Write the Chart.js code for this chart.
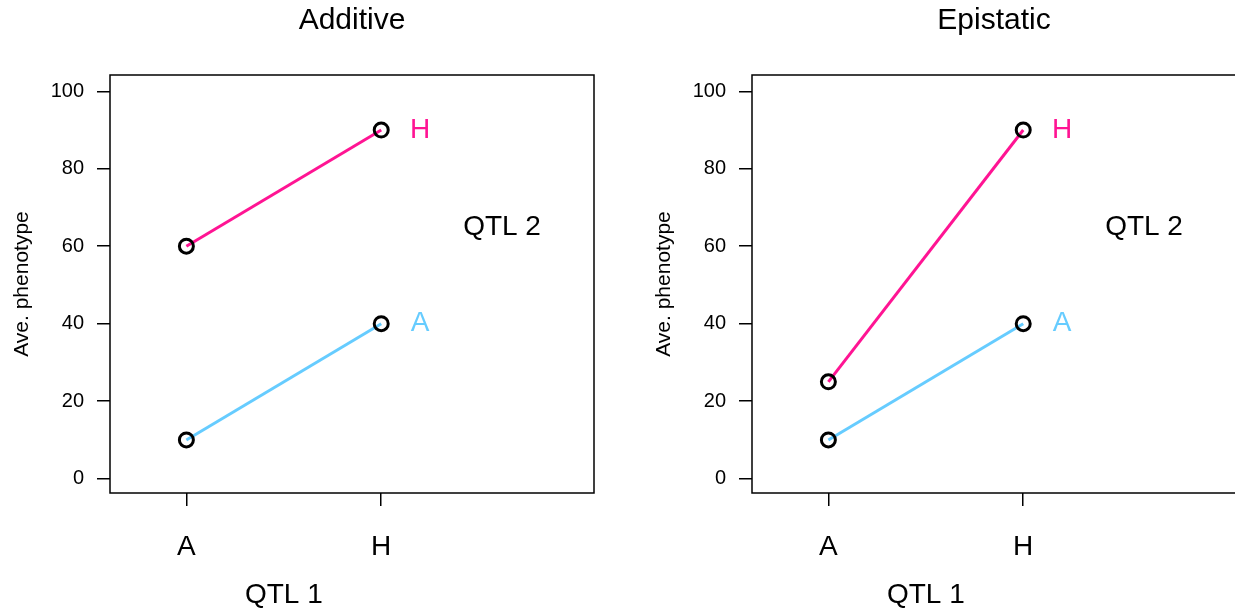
<!DOCTYPE html>
<html>
<head>
<meta charset="utf-8">
<script src="https://cdn.jsdelivr.net/npm/chart.js@4/dist/chart.umd.min.js"></script>
<style>
  html, body { margin: 0; padding: 0; background: #fff; overflow: hidden; }
  #wrap { position: relative; width: 1235px; height: 611px; overflow: hidden; }
  canvas { position: absolute; top: 0; }
</style>
</head>
<body>
<div id="wrap">
  <canvas id="additive" width="642" height="611" style="left:0px"></canvas>
  <canvas id="epistatic" width="642" height="611" style="left:642px"></canvas>
</div>
<script>
// genotype classes for QTL 1 (x axis)
var QTL1_LABELS = ['A', 'H'];
var QTL1_POS = [1, 2];

// average phenotype, one line per QTL 2 genotype
var ADDITIVE_H = [60, 90];
var ADDITIVE_A = [10, 40];
var EPISTATIC_H = [25, 90];
var EPISTATIC_A = [10, 40];

var Y_TICKS = [0, 20, 40, 60, 80, 100];

var PINK = '#FF1493';
var BLUE = '#66CCFF';
var FONT = '"Liberation Sans", Arial, Helvetica, sans-serif';

function toPoints(vals){
    return vals.map(function(v, i){ return {x: QTL1_POS[i], y: v}; });
}

function lineSet(vals, color){
    return {
        data: toPoints(vals),
        borderColor: color,
        borderWidth: 3,
        pointRadius: 7,
        pointHoverRadius: 7,
        pointBorderWidth: 3,
        pointBorderColor: '#000',
        pointBackgroundColor: 'rgba(0,0,0,0)',
        tension: 0
    };
}

// box, titles and in-plot text
var decor = {
    id: 'decor',
    afterDraw: function(chart, args, opts){
        var c = chart.ctx, a = chart.chartArea;
        var x = chart.scales.x, y = chart.scales.y;
        c.save();
        c.strokeStyle = '#000';
        c.lineWidth = 1.5;
        c.strokeRect(a.left, a.top, a.right - a.left, a.bottom - a.top);

        c.textAlign = 'center';
        c.textBaseline = 'middle';
        c.fillStyle = '#000';
        c.font = '30px ' + FONT;
        c.fillText(opts.title, (a.left + a.right) / 2, 21);

        c.font = '28px ' + FONT;
        c.fillText('QTL 1', x.getPixelForValue(1.5), 595);
        c.fillText('QTL 2', x.getPixelForValue(2.62), y.getPixelForValue(65));

        var last = QTL1_POS.length - 1;
        c.fillStyle = PINK;
        c.fillText('H', x.getPixelForValue(2.2), y.getPixelForValue(opts.h[last]));
        c.fillStyle = BLUE;
        c.fillText('A', x.getPixelForValue(2.2), y.getPixelForValue(opts.a[last]));
        c.restore();
    }
};

function makePanel(id, title, hVals, aVals){
    var ctx = document.getElementById(id).getContext('2d');
    return new Chart(ctx, {
        type: 'line',
        data: { datasets: [lineSet(hVals, PINK), lineSet(aVals, BLUE)] },
        options: {
            responsive: false,
            animation: false,
            events: [],
            layout: { padding: { top: 75, right: 48, bottom: 0, left: 0 } },
            plugins: {
                legend: { display: false },
                tooltip: { enabled: false },
                decor: { title: title, h: hVals, a: aVals }
            },
            scales: {
                x: {
                    type: 'linear',
                    min: 0.608,
                    max: 3.092,
                    afterBuildTicks: function(s){ s.ticks = QTL1_POS.map(function(v){ return {value: v}; }); },
                    afterFit: function(s){ s.height = 118; },
                    ticks: {
                        color: '#000',
                        font: { family: FONT, size: 28 },
                        padding: 24,
                        maxRotation: 0,
                        callback: function(v){ return QTL1_LABELS[QTL1_POS.indexOf(v)]; }
                    },
                    grid: { drawOnChartArea: false, tickLength: 13, color: '#000', lineWidth: 1.5 },
                    border: { display: false }
                },
                y: {
                    type: 'linear',
                    min: -3.7,
                    max: 104.2,
                    afterBuildTicks: function(s){ s.ticks = Y_TICKS.map(function(v){ return {value: v}; }); },
                    afterFit: function(s){ s.width = 110; },
                    ticks: {
                        color: '#000',
                        font: { family: FONT, size: 20 },
                        padding: 13
                    },
                    grid: { drawOnChartArea: false, tickLength: 13, color: '#000', lineWidth: 1.5 },
                    border: { display: false },
                    title: {
                        display: true,
                        text: 'Ave. phenotype',
                        color: '#000',
                        font: { family: FONT, size: 21 },
                        padding: { top: 10, bottom: 0 }
                    }
                }
            }
        },
        plugins: [decor]
    });
}

makePanel('additive', 'Additive', ADDITIVE_H, ADDITIVE_A);
makePanel('epistatic', 'Epistatic', EPISTATIC_H, EPISTATIC_A);
</script>
</body>
</html>
